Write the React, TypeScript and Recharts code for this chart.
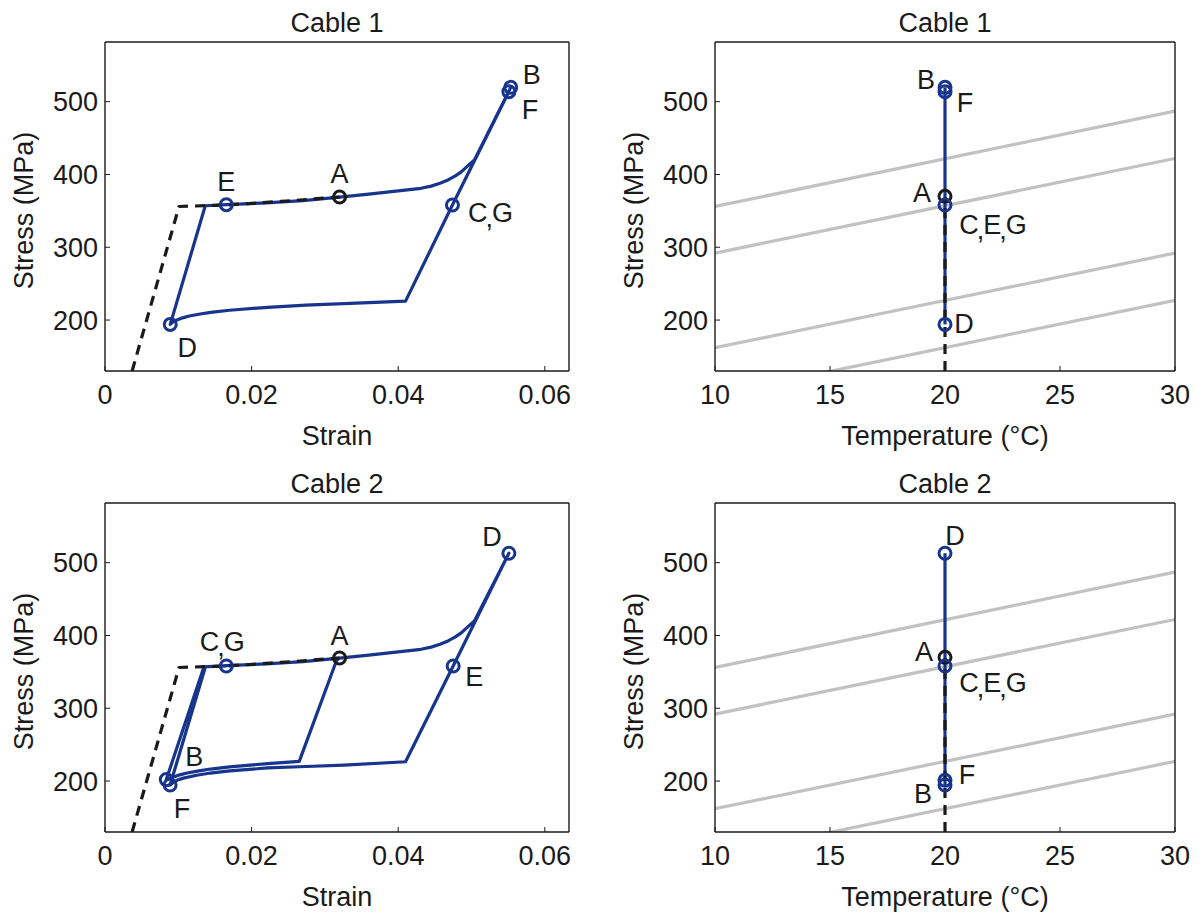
import React from 'react';
import { LineChart, Line, XAxis, YAxis, ReferenceDot } from 'recharts';

const FONT = '"Liberation Sans", Arial, Helvetica, sans-serif';
const BLUE = '#17358c';
const INK = '#1a1a1a';
const GREY = '#c2c2c2';

// axis ticks
const strainTicks = [0, 0.02, 0.04, 0.06];
const tempTicks = [10, 15, 20, 25, 30];
const stressTicks = [200, 300, 400, 500];

// virgin loading curve (black dashed), same for both cables
const virginStrain = [0.0037, 0.0101, 0.0165, 0.024, 0.032];
const virginStress = [130, 356, 358, 363, 369];

// cable 1: A-B-C-D-E-A-F-G
const c1Strain = [
  0.032, 0.036, 0.04, 0.0431, 0.0445, 0.0457, 0.0468, 0.0478, 0.0486, 0.0493, 0.0499, 0.0504, 0.05535,
  0.0474, 0.041, 0.0326, 0.0274, 0.0222, 0.017, 0.0144, 0.0128, 0.0115, 0.0106, 0.0098, 0.0093, 0.0089,
  0.01368, 0.01655, 0.022, 0.027, 0.032, 0.036, 0.04, 0.0431, 0.0445, 0.0457, 0.0468, 0.0478,
  0.0486, 0.0493, 0.0499, 0.0504, 0.0551, 0.0474,
];
const c1Stress = [
  369, 373, 377.5, 381, 384, 388, 392.5, 398, 403.5, 410, 415.5, 420, 519.7,
  358, 226, 222.5, 220.5, 217.5, 213.5, 210.5, 208, 205.5, 203, 200, 197.5, 194,
  357, 358.5, 361, 364, 369, 373, 377.5, 381, 384, 388, 392.5, 398,
  403.5, 410, 415.5, 420, 513.8, 358,
];

// cable 2: A-B-C-D-E-F-G
const c2Strain = [
  0.032, 0.0316, 0.0265, 0.0222, 0.017, 0.0144, 0.0128, 0.0112, 0.0102, 0.0092, 0.00836,
  0.0135, 0.01655, 0.022, 0.027, 0.032, 0.036, 0.04, 0.0431, 0.0445, 0.0457, 0.0468, 0.0478,
  0.0486, 0.0493, 0.0499, 0.0504, 0.0551, 0.0475, 0.041, 0.0326, 0.0274, 0.0222, 0.017, 0.0144,
  0.0125, 0.0107, 0.0098, 0.0093, 0.00888, 0.0137, 0.01655,
];
const c2Stress = [
  369, 366, 227, 224, 219.5, 216.5, 214, 211, 208.5, 205, 202,
  357, 358.5, 361, 364, 369, 373, 377.5, 381, 384, 388, 392.5, 398,
  403.5, 410, 415.5, 420, 513, 358, 226.5, 222, 220, 218, 214, 211,
  208, 204, 201, 198, 194.5, 357, 358,
];

// transformation lines in the stress-temperature plane
const bandTemp = [10, 30];
const band1 = [356, 487];
const band2 = [292, 422];
const band3 = [162, 292];
const band4 = [97, 227];

// temperature stays at 20 C
const c1TempPath = [20, 20];
const c1TempStress = [194, 519.7];
const c2TempPath = [20, 20];
const c2TempStress = [194.5, 513];
const virginTemp = [20, 20];
const virginTempStress = [130, 369];

// markers
const c1Names = ['A', 'B', 'F', 'C,G', 'D', 'E'];
const c1MarkStrain = [0.032, 0.05535, 0.0551, 0.0474, 0.0089, 0.01655];
const c1MarkStress = [369, 519.7, 513.8, 358, 194, 358.5];

const c1TNames = ['A', 'B', 'F', 'C,E,G', 'D'];
const c1TMarkTemp = [20, 20, 20, 20, 20];
const c1TMarkStress = [370, 519.7, 513.8, 358, 194];

const c2Names = ['A', 'D', 'E', 'C,G', 'B', 'F'];
const c2MarkStrain = [0.032, 0.0551, 0.0475, 0.01655, 0.00836, 0.00888];
const c2MarkStress = [369, 513, 358, 358, 202, 194.5];

const c2TNames = ['A', 'D', 'C,E,G', 'B', 'F'];
const c2TMarkTemp = [20, 20, 20, 20, 20];
const c2TMarkStress = [370, 513, 358, 201, 194.5];

const zip = (xs: number[], ys: number[]) => xs.map((x, i) => ({ x, y: ys[i] }));

// label offsets (px) from the marker centre
const offTL: Record<string, [number, number]> = {
  A: [0, -23], B: [21, -12], F: [21, 18], 'C,G': [38, 8], D: [17, 24], E: [0, -23],
};
const offTR: Record<string, [number, number]> = {
  A: [-23, -3], B: [-19, -7], F: [20, 11], 'C,E,G': [48, 20], D: [19, 0],
};
const offBL: Record<string, [number, number]> = {
  A: [0, -22], D: [-17, -16], E: [21, 11], 'C,G': [-4, -24], B: [28, -23], F: [12, 24],
};
const offBR: Record<string, [number, number]> = {
  A: [-21, -5], D: [10, -17], 'C,E,G': [48, 17], B: [-22, 14], F: [22, -10],
};

const W = 600;
const H = 455;
const FS = 27;

// commas sit low between letters, like the original annotations
const labelText = (label: string) =>
  label.split(',').map((part, i) =>
    i === 0 ? (
      <tspan key={i}>{part}</tspan>
    ) : (
      <React.Fragment key={i}>
        <tspan dy={5} dx={-2}>,</tspan>
        <tspan dy={-5} dx={-1}>{part}</tspan>
      </React.Fragment>
    ),
  );

const markerShape = (label: string, off: [number, number], color: string) => (p: any) => (
  <g>
    <circle cx={p.cx} cy={p.cy} r={6} fill="none" stroke={color} strokeWidth={3} />
    <text
      x={p.cx + off[0]}
      y={p.cy + off[1]}
      textAnchor="middle"
      dominantBaseline="central"
      fontSize={FS}
      fontFamily={FONT}
      fill={INK}
    >
      {labelText(label)}
    </text>
  </g>
);

type PanelProps = {
  title: string;
  xLabel: string;
  xDomain: [number, number];
  xTicks: number[];
  rightW: number;
  children: React.ReactNode;
};

const Panel = ({ title, xLabel, xDomain, xTicks, rightW, children }: PanelProps) => {
  const tickStyle = { fontSize: FS, fill: INK, fontFamily: FONT };
  const frame = { stroke: INK, strokeWidth: 1.4 };
  return (
    <LineChart width={W} height={H} margin={{ top: 0, right: 0, bottom: 0, left: 0 }}>
      <XAxis
        type="number"
        dataKey="x"
        domain={xDomain}
        ticks={xTicks}
        interval={0}
        allowDataOverflow
        height={84}
        tickSize={-5}
        tickMargin={19}
        axisLine={frame}
        tickLine={{ stroke: INK }}
        tick={tickStyle}
        label={{
          content: (p: any) => (
            <text
              x={p.viewBox.x + p.viewBox.width / 2}
              y={p.viewBox.y + 74}
              textAnchor="middle"
              fontSize={FS}
              fontFamily={FONT}
              fill={INK}
            >
              {xLabel}
            </text>
          ),
        }}
      />
      <XAxis
        xAxisId="top"
        orientation="top"
        type="number"
        dataKey="x"
        domain={xDomain}
        ticks={xTicks}
        interval={0}
        allowDataOverflow
        height={42}
        tickSize={-5}
        axisLine={frame}
        tickLine={{ stroke: INK }}
        tick={false}
        label={{
          content: (p: any) => (
            <text
              x={p.viewBox.x + p.viewBox.width / 2}
              y={p.viewBox.y + 32}
              textAnchor="middle"
              fontSize={FS}
              fontFamily={FONT}
              fill={INK}
            >
              {title}
            </text>
          ),
        }}
      />
      <YAxis
        type="number"
        domain={[130, 582]}
        ticks={stressTicks}
        interval={0}
        allowDataOverflow
        width={105}
        tickSize={-5}
        tickMargin={12}
        axisLine={frame}
        tickLine={{ stroke: INK }}
        tick={tickStyle}
        label={{
          content: (p: any) => {
            const cx = 24;
            const cy = p.viewBox.y + p.viewBox.height / 2 + 4;
            return (
              <text
                x={cx}
                y={cy}
                transform={`rotate(-90 ${cx} ${cy})`}
                textAnchor="middle"
                dominantBaseline="central"
                fontSize={FS}
                fontFamily={FONT}
                fill={INK}
              >
                Stress (MPa)
              </text>
            );
          },
        }}
      />
      <YAxis
        yAxisId="r"
        orientation="right"
        type="number"
        domain={[130, 582]}
        ticks={stressTicks}
        interval={0}
        allowDataOverflow
        width={rightW}
        tickSize={-5}
        axisLine={frame}
        tickLine={{ stroke: INK }}
        tick={false}
      />
      {children}
    </LineChart>
  );
};

const pathLine = (key: string, data: { x: number; y: number }[], color: string, dashed = false) => (
  <Line
    key={key}
    data={data}
    dataKey="y"
    type="linear"
    stroke={color}
    strokeWidth={3.2}
    strokeDasharray={dashed ? '10 7' : undefined}
    strokeLinejoin="round"
    dot={false}
    activeDot={false}
    isAnimationActive={false}
  />
);

const dots = (
  names: string[],
  xs: number[],
  ys: number[],
  offs: Record<string, [number, number]>,
) =>
  names.map((n, i) => (
    <ReferenceDot
      key={'m' + n + i}
      x={xs[i]}
      y={ys[i]}
      r={6}
      ifOverflow="visible"
      shape={markerShape(n, offs[n], n === 'A' ? INK : BLUE)}
    />
  ));

const bands = () => [
  pathLine('g1', zip(bandTemp, band1), GREY),
  pathLine('g2', zip(bandTemp, band2), GREY),
  pathLine('g3', zip(bandTemp, band3), GREY),
  pathLine('g4', zip(bandTemp, band4), GREY),
];

export default function App() {
  return (
    <div
      style={{
        position: 'absolute',
        left: 0,
        top: 0,
        width: 1203,
        height: 916,
        background: '#fff',
        overflow: 'hidden',
      }}
    >
      <div style={{ position: 'absolute', left: 0, top: 0 }}>
        <Panel title="Cable 1" xLabel="Strain" xDomain={[0, 0.0633]} xTicks={strainTicks} rightW={31}>
          {pathLine('b', zip(c1Strain, c1Stress), BLUE)}
          {pathLine('k', zip(virginStrain, virginStress), INK, true)}
          {dots(c1Names, c1MarkStrain, c1MarkStress, offTL)}
        </Panel>
      </div>
      <div style={{ position: 'absolute', left: 610, top: 0 }}>
        <Panel title="Cable 1" xLabel="Temperature (°C)" xDomain={[10, 30]} xTicks={tempTicks} rightW={35}>
          {bands()}
          {pathLine('b', zip(c1TempPath, c1TempStress), BLUE)}
          {pathLine('k', zip(virginTemp, virginTempStress), INK, true)}
          {dots(c1TNames, c1TMarkTemp, c1TMarkStress, offTR)}
        </Panel>
      </div>
      <div style={{ position: 'absolute', left: 0, top: 461 }}>
        <Panel title="Cable 2" xLabel="Strain" xDomain={[0, 0.0633]} xTicks={strainTicks} rightW={31}>
          {pathLine('b', zip(c2Strain, c2Stress), BLUE)}
          {pathLine('k', zip(virginStrain, virginStress), INK, true)}
          {dots(c2Names, c2MarkStrain, c2MarkStress, offBL)}
        </Panel>
      </div>
      <div style={{ position: 'absolute', left: 610, top: 461 }}>
        <Panel title="Cable 2" xLabel="Temperature (°C)" xDomain={[10, 30]} xTicks={tempTicks} rightW={35}>
          {bands()}
          {pathLine('b', zip(c2TempPath, c2TempStress), BLUE)}
          {pathLine('k', zip(virginTemp, virginTempStress), INK, true)}
          {dots(c2TNames, c2TMarkTemp, c2TMarkStress, offBR)}
        </Panel>
      </div>
    </div>
  );
}
